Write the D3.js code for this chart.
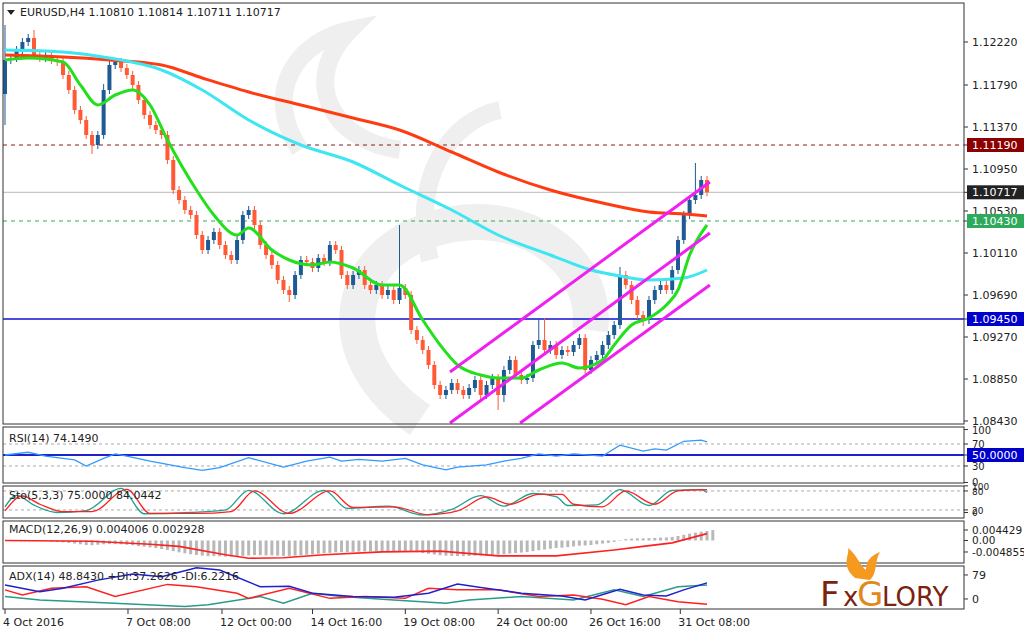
<!DOCTYPE html>
<html><head><meta charset="utf-8">
<script src="https://cdn.jsdelivr.net/npm/d3@7"></script>
<style>body{margin:0;background:#fff}svg{display:block}text{font-family:Tahoma,"DejaVu Sans",sans-serif}</style>
</head><body><svg id="c" width="1024" height="636"></svg>
<script>
// ---- data ----
const firstOpen = 1.1170;
const closes = [1.1204,1.1206,1.1214,1.1222,1.1226,1.1209,1.1206,1.1209,1.1204,1.1202,1.1189,1.1174,1.1154,1.1144,1.1129,1.1119,1.1129,1.1174,1.1199,1.1202,1.1196,1.1189,1.1179,1.1164,1.1149,1.1139,1.1134,1.1129,1.1104,1.1074,1.1064,1.1054,1.1049,1.1029,1.1014,1.1024,1.1032,1.1019,1.1009,1.1004,1.1024,1.1049,1.1054,1.1039,1.1019,1.1009,1.0999,1.0984,1.0974,1.0969,1.0989,1.1004,1.1002,1.0996,1.1006,1.1002,1.1019,1.1014,1.0989,1.0979,1.0989,1.0994,1.0979,1.0974,1.0979,1.0969,1.0974,1.0964,1.0976,1.0969,1.0934,1.0924,1.0914,1.0899,1.0879,1.0869,1.0874,1.0881,1.0874,1.0869,1.0876,1.0884,1.0869,1.0879,1.0886,1.0869,1.0894,1.0904,1.0889,1.0884,1.0886,1.0919,1.0924,1.0914,1.0919,1.0909,1.0914,1.0912,1.0919,1.0926,1.0894,1.0904,1.0909,1.0919,1.0929,1.0939,1.0989,1.0979,1.0964,1.0949,1.0944,1.0964,1.0974,1.0979,1.0974,1.0994,1.1024,1.1049,1.1064,1.1069,1.1084,1.10717];
const wickPips = 4; // typical wick size in pips
const bigHighs = {0:1.1239,5:1.1234,68:1.1039,92:1.0946,93:1.0946,119:1.1101,106:1.0997,17:1.1180};
const bigLows = {0:1.1139,15:1.1110,85:1.0854,86:1.0862,49:1.0962,110:1.0938};
const maRed = [[0,1.1209],[10,1.1207],[18,1.1204],[27,1.1199],[34,1.1186],[42,1.1172],[51,1.1159],[60,1.1146],[68,1.1134],[77,1.1112],[85,1.1092],[94,1.1074],[103,1.1061],[111,1.1052],[117,1.1050],[121,1.1048]];
const maCyan = [[0,1.1214],[10,1.1212],[18,1.1206],[27,1.1194],[34,1.1174],[42,1.1144],[51,1.1119],[60,1.1102],[68,1.1079],[77,1.1054],[85,1.1029],[94,1.1009],[101,1.0994],[106,1.0988],[111,1.0984],[117,1.0986],[121,1.0994]];
const maGreen = [[0,1.1204],[4,1.1206],[10,1.1202],[13,1.1179],[16,1.1159],[19,1.1169],[22,1.1174],[25,1.1159],[28,1.1124],[33,1.1074],[36,1.1049],[40,1.1029],[42,1.1036],[46,1.1014],[49,1.1004],[53,1.0999],[56,1.1002],[60,1.0996],[65,1.0979],[68,1.0979],[72,1.0944],[75,1.0919],[78,1.0899],[82,1.0889],[85,1.0886],[89,1.0886],[92,1.0894],[96,1.0901],[99,1.0896],[103,1.0904],[105,1.0919],[108,1.0939],[111,1.0946],[114,1.0959],[116,1.0974],[118,1.1009],[121,1.1039]];
const channel = [[[76.7,1.0892],[121.5,1.1082]],[[76.7,1.0841],[121.5,1.1031]],[[88.8,1.0841],[121.5,1.0979]]];
const levels = [{p:1.1119,c:"#8b1a1a",dash:"4,4",lab:"1.11190",bg:"#8b0000"},{p:1.10717,c:"#c8c8c8",dash:null,lab:"1.10717",bg:"#222"},{p:1.1043,c:"#2eaa5c",dash:"4,4",lab:"1.10430",bg:"#2eaa5c"},{p:1.0945,c:"#1010d0",dash:null,lab:"1.09450",bg:"#0000cc"}];
const priceTicks = ["1.12220","1.11790","1.11370","1.10950","1.10530","1.10110","1.09690","1.09270","1.08850","1.08430"];
const dateTicks = [[0,"4 Oct 2016"],[21.2,"7 Oct 08:00"],[37.4,"12 Oct 00:00"],[53,"14 Oct 16:00"],[69,"19 Oct 08:00"],[85,"24 Oct 00:00"],[101,"26 Oct 16:00"],[116.4,"31 Oct 08:00"]];
const rsi = [[0,50],[4,55],[7,48],[12,41],[14,30],[17,44],[19,52],[21,48],[25,39],[31,27],[34,22],[37,27],[42,45],[48,28],[52,39],[56,46],[58,39],[61,42],[65,39],[69,44],[72,32],[76,23],[78,28],[83,32],[86,39],[89,44],[92,52],[95,48],[98,52],[103,48],[106,68],[110,57],[112,61],[114,59],[117,75],[120,77],[121,74]];
const stochSig = [[0,17],[3,64],[6,38],[10,15],[15,15],[21,85],[25,9],[33,9],[39,15],[43,80],[49,9],[56,80],[60,28],[67,30],[73,5],[78,17],[83,61],[87,38],[92,69],[96,69],[98,38],[103,30],[107,80],[112,38],[116,80],[121,84]];
const stochMain = [[0,30],[2,66],[5,35],[9,12],[14,18],[20,88],[24,8],[32,12],[38,20],[42,82],[48,8],[55,82],[59,25],[66,32],[72,4],[77,22],[82,65],[86,32],[91,72],[95,62],[97,34],[102,36],[106,84],[111,34],[115,82],[120,84],[121,75]];
const macdHist = [0,0,0,0,0,0,0,-0.2,-0.4,-0.6,-0.8,-1.0,-1.3,-1.6,-1.9,-2.0,-1.8,-1.6,-1.5,-1.5,-1.6,-1.8,-2.0,-2.3,-2.6,-2.9,-3.2,-3.6,-4.0,-4.5,-5.0,-5.4,-5.8,-6.1,-6.4,-6.6,-6.6,-6.7,-6.8,-6.8,-6.7,-6.5,-6.3,-6.2,-6.2,-6.3,-6.3,-6.4,-6.5,-6.5,-6.4,-6.2,-6.0,-5.8,-5.6,-5.4,-5.2,-5.0,-4.9,-4.9,-4.8,-4.7,-4.6,-4.6,-4.6,-4.6,-4.6,-4.6,-4.5,-4.5,-4.7,-5.0,-5.3,-5.6,-5.9,-6.2,-6.4,-6.5,-6.6,-6.6,-6.5,-6.4,-6.3,-6.2,-6.1,-6.0,-5.8,-5.5,-5.3,-5.1,-4.9,-4.5,-4.1,-3.8,-3.5,-3.2,-3.0,-2.8,-2.5,-2.2,-2.1,-1.9,-1.6,-1.3,-1.0,-0.6,0.2,0.6,0.8,0.9,0.9,1.0,1.1,1.2,1.3,1.5,1.9,2.4,2.9,3.3,3.7,4.0,4.4];
const macdSig = [[0,0],[15,-0.3],[25,-1.6],[30,-2.5],[38,-6],[42,-7.5],[48,-7.3],[55,-6],[65,-4.8],[75,-4.5],[85,-6.5],[95,-6.5],[105,-4.0],[110,-2.5],[115,-1],[121,2.9]];
const adx = [[0,46],[6,24],[10,35],[16,62],[22,82],[27,73],[33,103],[37,95],[44,40],[49,42],[53,19],[60,8],[67,6],[73,19],[78,49],[82,38],[89,19],[96,10],[100,-3],[106,32],[110,13],[114,10],[117,30],[121,53]];
const pdi = [[0,30],[3,13],[8,35],[14,40],[19,8],[28,48],[33,40],[40,19],[42,2],[49,35],[56,2],[62,8],[69,2],[73,35],[78,30],[85,30],[92,8],[98,13],[103,-1],[107,-19],[111,8],[116,-9],[121,-17]];
const mdi = [[0,8],[6,-3],[16,-12],[31,-25],[35,-19],[44,8],[48,-14],[53,19],[58,8],[67,-3],[76,-14],[80,-3],[89,8],[98,-3],[105,30],[110,8],[116,40],[121,46]];

// ---- drawing ----
const svg = d3.select("#c");
const L = 3, R = 964;
const x = d3.scaleLinear().domain([0,121]).range([5,707]);
const panels = {main:[3,424], rsi:[427,483], sto:[486,518], macd:[521,563], adx:[566,609]};
const yMain = d3.scaleLinear().domain([1.0840,1.1261]).range([424,3]);
const yRsi = d3.scaleLinear().domain([-1,101]).range([483,427]);
const ySto = d3.scaleLinear().domain([-5.4,95.6]).range([518,486]);
const yMacd = d3.scaleLinear().domain([-0.0095,0.00823]).range([563,521]);
const yAdx = d3.scaleLinear().domain([-33,108.5]).range([609,566]);

// watermark
const wm = svg.append("g").attr("fill","none").attr("stroke","#efefef");
wm.append("path").attr("d","M420,420 C330,360 340,260 430,230 C520,200 600,260 590,330").attr("stroke-width",36);
wm.append("path").attr("d","M300,150 C260,90 300,40 350,30 C300,80 330,140 400,150").attr("stroke-width",18);
wm.append("path").attr("d","M430,260 C410,180 450,120 500,110").attr("stroke-width",18);

// levels
levels.forEach(l=>{
  svg.append("line").attr("x1",L).attr("x2",R).attr("y1",yMain(l.p)).attr("y2",yMain(l.p))
    .attr("stroke",l.c).attr("stroke-width",l.c==="#1010d0"?1.5:1.2).attr("stroke-dasharray",l.dash);
});

// candles
const candles = closes.map((c,i)=>{
  const o = i===0?firstOpen:closes[i-1];
  const hi = bigHighs[i]!==undefined?bigHighs[i]:Math.max(o,c)+wickPips*0.0001;
  const lo = bigLows[i]!==undefined?bigLows[i]:Math.min(o,c)-wickPips*0.0001;
  return {i,o,c,hi,lo};
});
const cg = svg.append("g");
candles.forEach(d=>{
  const col = d.c>=d.o?"#1e5b94":"#ff5a35";
  cg.append("line").attr("x1",x(d.i)).attr("x2",x(d.i)).attr("y1",yMain(d.hi)).attr("y2",yMain(d.lo)).attr("stroke",col).attr("stroke-width",1);
  const top=yMain(Math.max(d.o,d.c)), bot=yMain(Math.min(d.o,d.c));
  cg.append("rect").attr("x",x(d.i)-2).attr("width",4).attr("y",top).attr("height",Math.max(1,bot-top)).attr("fill",col);
});

const line = (ys)=>d3.line().x(d=>x(d[0])).y(d=>ys(d[1])).curve(d3.curveMonotoneX);
svg.append("path").datum(maRed).attr("d",line(yMain)).attr("fill","none").attr("stroke","#ff3b12").attr("stroke-width",3);
svg.append("path").datum(maCyan).attr("d",line(yMain)).attr("fill","none").attr("stroke","#3ee6f2").attr("stroke-width",3);
svg.append("path").datum(maGreen).attr("d",line(yMain)).attr("fill","none").attr("stroke","#22e01c").attr("stroke-width",3);
channel.forEach(s=>svg.append("line").attr("x1",x(s[0][0])).attr("y1",yMain(s[0][1])).attr("x2",x(s[1][0])).attr("y2",yMain(s[1][1])).attr("stroke","#f020f0").attr("stroke-width",3));

// RSI
[70,30].forEach(v=>svg.append("line").attr("x1",L).attr("x2",R).attr("y1",yRsi(v)).attr("y2",yRsi(v)).attr("stroke","#aaa").attr("stroke-dasharray","3,3"));
svg.append("line").attr("x1",L).attr("x2",R).attr("y1",yRsi(50)).attr("y2",yRsi(50)).attr("stroke","#2020cc").attr("stroke-width",2);
svg.append("path").datum(rsi).attr("d",d3.line().x(d=>x(d[0])).y(d=>yRsi(d[1]))).attr("fill","none").attr("stroke","#3399ff").attr("stroke-width",1.3);
// Stoch
[80,20].forEach(v=>svg.append("line").attr("x1",L).attr("x2",R).attr("y1",ySto(v)).attr("y2",ySto(v)).attr("stroke","#aaa").attr("stroke-dasharray","3,3"));
svg.append("path").datum(stochMain).attr("d",line(ySto)).attr("fill","none").attr("stroke","#20a090").attr("stroke-width",1.3);
svg.append("path").datum(stochSig).attr("d",line(ySto)).attr("fill","none").attr("stroke","#ff2020").attr("stroke-width",1.3);
// MACD
macdHist.forEach((v,i)=>{
  const a=yMacd(0), b=yMacd(v*0.001);
  svg.append("rect").attr("x",x(i)-1.5).attr("width",3).attr("y",Math.min(a,b)).attr("height",Math.abs(b-a)).attr("fill","#b8b8b8");
});
svg.append("path").datum(macdSig).attr("d",d3.line().x(d=>x(d[0])).y(d=>yMacd(d[1]*0.001))).attr("fill","none").attr("stroke","#ff2020").attr("stroke-width",1.6);
// ADX
svg.append("path").datum(mdi).attr("d",d3.line().x(d=>x(d[0])).y(d=>yAdx(d[1]))).attr("fill","none").attr("stroke","#2a9a8a").attr("stroke-width",1.5);
svg.append("path").datum(pdi).attr("d",d3.line().x(d=>x(d[0])).y(d=>yAdx(d[1]))).attr("fill","none").attr("stroke","#ff2020").attr("stroke-width",1.5);
svg.append("path").datum(adx).attr("d",d3.line().x(d=>x(d[0])).y(d=>yAdx(d[1]))).attr("fill","none").attr("stroke","#2020cc").attr("stroke-width",1.5);

// frames
Object.values(panels).forEach(p=>svg.append("rect").attr("x",L).attr("y",p[0]).attr("width",R-L).attr("height",p[1]-p[0]).attr("fill","none").attr("stroke","#333").attr("stroke-width",1));

// right axis
function rlab(y,t,bg,fs){
  svg.append("line").attr("x1",R).attr("x2",R+4).attr("y1",y).attr("y2",y).attr("stroke","#333");
  if(bg){svg.append("rect").attr("x",R+3).attr("y",y-7).attr("width",58).attr("height",14).attr("fill",bg);}
  svg.append("text").attr("x",R+8).attr("y",y+4).attr("font-size",fs||11).attr("fill",bg?"#fff":"#222").text(t);
}
priceTicks.forEach(t=>rlab(yMain(+t),t));
levels.forEach(l=>rlab(yMain(l.p),l.lab,l.bg));
[["100",100],["70",70],["30",30],["0",0]].forEach(d=>rlab(yRsi(d[1])-(d[1]===100?-2:0),d[0],null,10));
rlab(yRsi(50),"50.0000","#0000cc");
[["100",96],["80",80],["20",20],["0",12]].forEach(d=>rlab(ySto(d[1]),d[0],null,9));
[["0.004429",0.004429],["0.00",0],["-0.004855",-0.004855]].forEach(d=>rlab(yMacd(d[1]),d[0],null,10.5));
[["79",79],["0",0]].forEach(d=>rlab(yAdx(d[1]),d[0]));

// dates
dateTicks.forEach(d=>{
  svg.append("line").attr("x1",x(d[0])).attr("x2",x(d[0])).attr("y1",609).attr("y2",614).attr("stroke","#333");
  svg.append("text").attr("x",x(d[0])-2).attr("y",626).attr("font-size",11).attr("fill","#222").text(d[1]);
});

// titles
const tt=(y,t)=>svg.append("text").attr("x",9).attr("y",y).attr("font-size",11).attr("fill","#222").text(t);
svg.append("path").attr("d","M7,10 L15,10 L11,15 Z").attr("fill","#222");
svg.append("text").attr("x",20).attr("y",16).attr("font-size",11).attr("fill","#222").text("EURUSD,H4  1.10810 1.10814 1.10711 1.10717");
tt(442,"RSI(14) 74.1490");
tt(499,"Sto(5,3,3) 75.0000 84.0442");
tt(533,"MACD(12,26,9) 0.004006 0.002928");
tt(580,"ADX(14) 48.8430 +DI:37.2626 -DI:6.2216");

// logo
const lg = svg.append("g");
lg.append("path").attr("d","M855,578 C840,565 850,555 848,548 C858,556 860,566 866,570 C866,560 872,555 880,552 C874,562 878,572 870,580 Z").attr("fill","#f59a1e");
lg.append("text").attr("x",820).attr("y",606).attr("font-family","'Liberation Serif',serif").attr("font-size",34).attr("fill","#7a2410").text("F");
lg.append("text").attr("x",843).attr("y",606).attr("font-family","'Liberation Serif',serif").attr("font-size",26).attr("fill","#7a2410").text("x");
lg.append("text").attr("x",857).attr("y",606).attr("font-family","'Liberation Serif',serif").attr("font-size",34).attr("fill","#e0891c").text("G");
lg.append("text").attr("x",882).attr("y",606).attr("font-family","'Liberation Serif',serif").attr("font-size",26).attr("fill","#7a2410").text("LORY");
</script></body></html>
